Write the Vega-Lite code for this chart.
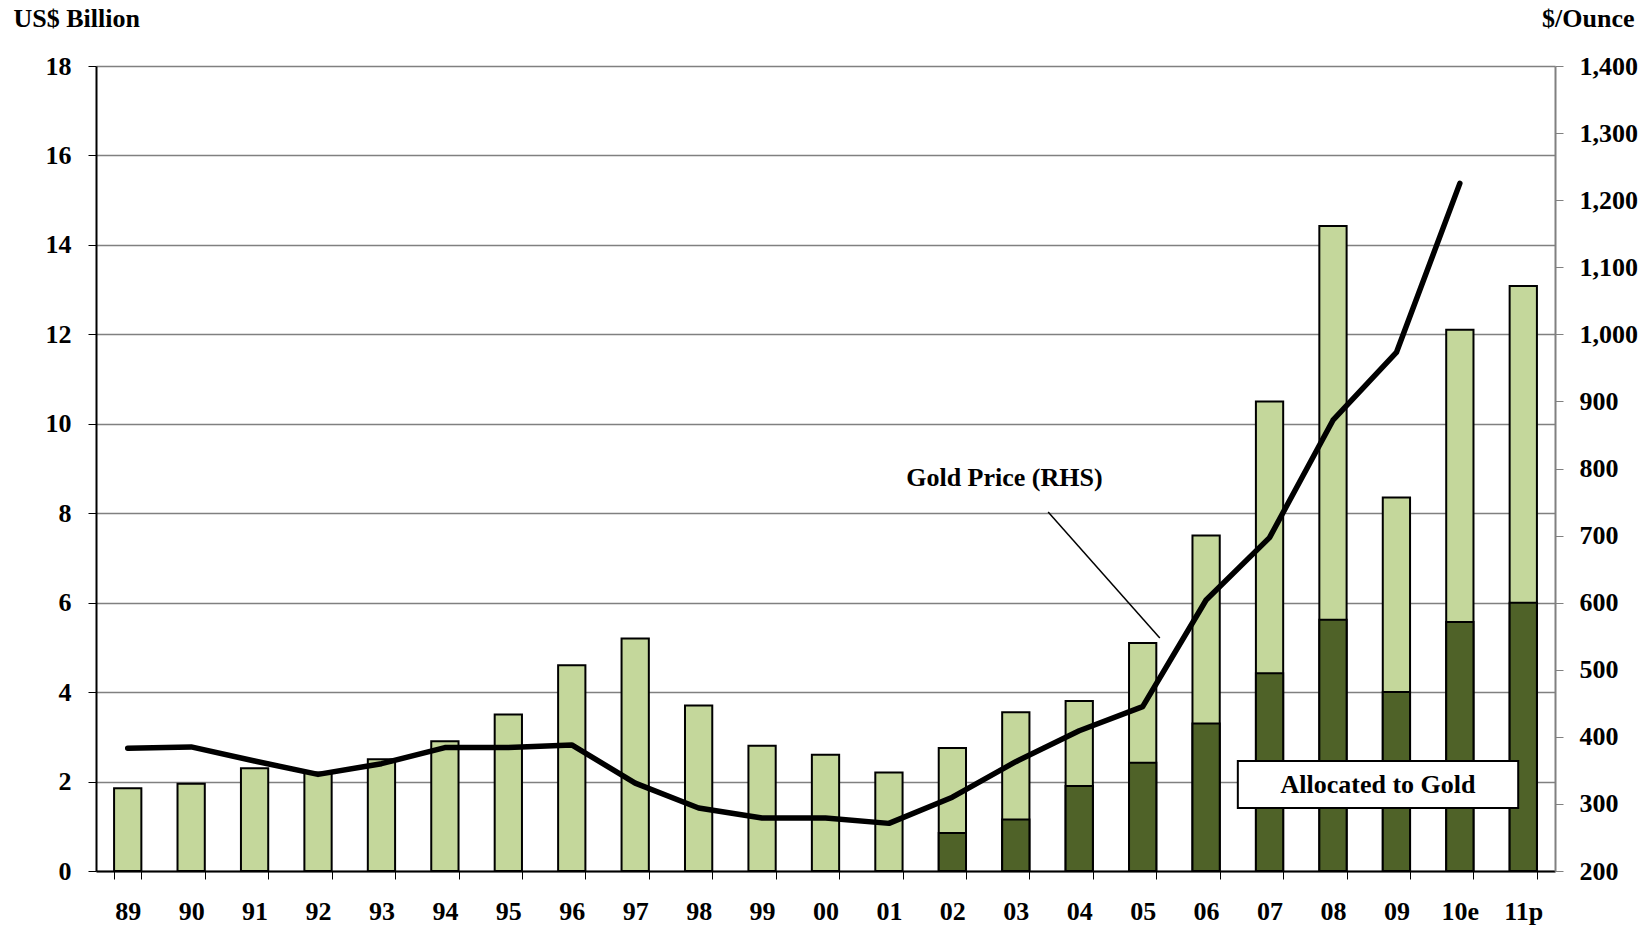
{
  "$schema": "https://vega.github.io/schema/vega-lite/v6.json",
  "width": 1459,
  "height": 805,
  "autosize": {"type": "none"},
  "padding": {"left": 96, "top": 66, "right": 93, "bottom": 55},
  "background": "white",
  "config": {
    "view": {"stroke": null},
    "font": "Liberation Serif",
    "axis": {"labelFont": "Liberation Serif", "labelFontSize": 26, "labelFontWeight": "bold", "labelColor": "black", "titleFont": "Liberation Serif", "titleFontSize": 26, "titleFontWeight": "bold", "titleColor": "black"}
  },
  "data": {
    "values": [
      {"yr": "89", "total": 1.85, "gold": null, "price": 383},
      {"yr": "90", "total": 1.95, "gold": null, "price": 385},
      {"yr": "91", "total": 2.3, "gold": null, "price": 364},
      {"yr": "92", "total": 2.2, "gold": null, "price": 344},
      {"yr": "93", "total": 2.5, "gold": null, "price": 360},
      {"yr": "94", "total": 2.9, "gold": null, "price": 384},
      {"yr": "95", "total": 3.5, "gold": null, "price": 384},
      {"yr": "96", "total": 4.6, "gold": null, "price": 388},
      {"yr": "97", "total": 5.2, "gold": null, "price": 331},
      {"yr": "98", "total": 3.7, "gold": null, "price": 294},
      {"yr": "99", "total": 2.8, "gold": null, "price": 279},
      {"yr": "00", "total": 2.6, "gold": null, "price": 279},
      {"yr": "01", "total": 2.2, "gold": null, "price": 271},
      {"yr": "02", "total": 2.75, "gold": 0.85, "price": 310},
      {"yr": "03", "total": 3.55, "gold": 1.15, "price": 363},
      {"yr": "04", "total": 3.8, "gold": 1.9, "price": 409},
      {"yr": "05", "total": 5.1, "gold": 2.42, "price": 445},
      {"yr": "06", "total": 7.5, "gold": 3.3, "price": 604},
      {"yr": "07", "total": 10.5, "gold": 4.42, "price": 697},
      {"yr": "08", "total": 14.42, "gold": 5.62, "price": 872},
      {"yr": "09", "total": 8.35, "gold": 4.0, "price": 973},
      {"yr": "10e", "total": 12.1, "gold": 5.57, "price": 1225},
      {"yr": "11p", "total": 13.08, "gold": 6.0, "price": null}
    ]
  },
  "resolve": {"scale": {"x": "independent", "y": "independent"}, "axis": {"x": "independent", "y": "independent"}},
  "layer": [
    {
      "encoding": {
        "x": {"field": "yr", "type": "nominal", "sort": null,
          "scale": {"type": "band", "paddingInner": 0.57, "paddingOuter": 0.285},
          "axis": {"title": null, "labelAngle": 0, "tickBand": "extent", "tickSize": 8, "tickColor": "black", "domainColor": "black", "domainWidth": 2, "labelPadding": 19, "grid": false}
        }
      },
      "layer": [
        {
          "mark": {"type": "bar", "fill": "#C4D79B", "stroke": "black", "strokeWidth": 2},
          "encoding": {
            "y": {"field": "total", "type": "quantitative", "scale": {"domain": [0, 18], "nice": false},
              "axis": {"orient": "left", "values": [0, 2, 4, 6, 8, 10, 12, 14, 16, 18], "title": "US$ Billion", "titleAngle": 0, "titleAlign": "left", "titleBaseline": "middle", "titleX": -83, "titleY": -48, "grid": true, "gridColor": "#808080", "gridWidth": 1.5, "domainColor": "black", "domainWidth": 2, "tickColor": "black", "tickSize": 8, "labelPadding": 17}
            }
          }
        },
        {
          "mark": {"type": "bar", "fill": "#4F6228", "stroke": "black", "strokeWidth": 2},
          "encoding": {
            "y": {"field": "gold", "type": "quantitative"}
          }
        }
      ]
    },
    {
      "mark": {"type": "line", "color": "black", "strokeWidth": 5.5, "strokeCap": "round", "strokeJoin": "round"},
      "encoding": {
        "x": {"field": "yr", "type": "nominal", "sort": null, "scale": {"type": "point", "padding": 0.5}, "axis": null},
        "y": {"field": "price", "type": "quantitative", "scale": {"domain": [200, 1400], "nice": false, "zero": false},
          "axis": {"orient": "right", "values": [200, 300, 400, 500, 600, 700, 800, 900, 1000, 1100, 1200, 1300, 1400], "format": ",.0f", "title": "$/Ounce", "titleAngle": 0, "titleAlign": "right", "titleBaseline": "middle", "titleX": 79, "titleY": -48, "grid": false, "domainColor": "#808080", "domainWidth": 2, "tickColor": "#808080", "tickSize": 8, "labelPadding": 16}
        }
      }
    },
    {
      "data": {
        "values": [
          {"kind": "callout", "x": 14.51, "y": 8.03, "x2": 16.27, "y2": 5.21, "label": null},
          {"kind": "box", "x": 17.5, "y": 2.46, "x2": 21.92, "y2": 1.41, "label": null},
          {"kind": "text1", "x": 13.82, "y": 8.79, "x2": null, "y2": null, "label": "Gold Price (RHS)"},
          {"kind": "text2", "x": 19.71, "y": 1.93, "x2": null, "y2": null, "label": "Allocated to Gold"}
        ]
      },
      "encoding": {
        "x": {"field": "x", "type": "quantitative", "scale": {"domain": [-0.5, 22.5], "nice": false, "zero": false}, "axis": null},
        "y": {"field": "y", "type": "quantitative", "scale": {"domain": [0, 18], "nice": false}, "axis": null}
      },
      "layer": [
        {
          "transform": [{"filter": "datum.kind === 'callout'"}],
          "mark": {"type": "rule", "color": "black", "strokeWidth": 1.5},
          "encoding": {"x2": {"field": "x2"}, "y2": {"field": "y2"}}
        },
        {
          "transform": [{"filter": "datum.kind === 'box'"}],
          "mark": {"type": "rect", "fill": "white", "stroke": "black", "strokeWidth": 2},
          "encoding": {"x2": {"field": "x2"}, "y2": {"field": "y2"}}
        },
        {
          "transform": [{"filter": "datum.label != null"}],
          "mark": {"type": "text", "font": "Liberation Serif", "fontSize": 26, "fontWeight": "bold", "color": "black", "align": "center", "baseline": "middle"},
          "encoding": {"text": {"field": "label"}}
        }
      ]
    }
  ]
}
